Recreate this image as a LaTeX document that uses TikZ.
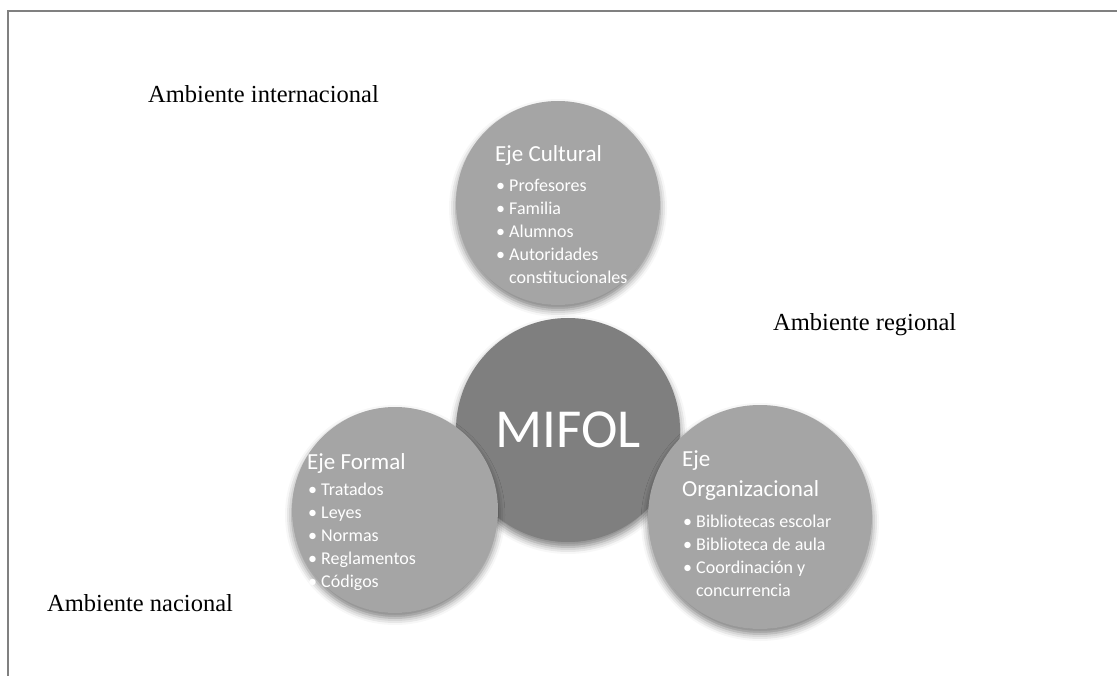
\documentclass[tikz,border=0pt]{standalone}
\usepackage{fontspec}
\setmainfont{Liberation Serif}
\newfontfamily\calfont{Carlito}
\usetikzlibrary{shadows.blur}
\definecolor{discgray}{HTML}{A5A5A5}
\definecolor{hubgray}{HTML}{7F7F7F}
\definecolor{framegray}{HTML}{808080}
\begin{document}
\begin{tikzpicture}[x=1pt, y=-1pt,
      disc/.style={circle, fill=discgray, inner sep=0pt,
                   blur shadow={shadow xshift=0pt, shadow yshift=-5pt,
                                shadow blur radius=7pt, shadow opacity=50}},
      hub/.style={disc, fill=hubgray, text=white,
                  font=\calfont\fontsize{55}{60}\selectfont},
      ttl/.style={text=white, inner sep=0pt, align=left,
                  font=\calfont\fontsize{23}{30}\selectfont},
      items/.style={text=white, inner sep=0pt, align=left, anchor=north west,
                    font=\calfont\fontsize{18}{23}\selectfont},
      amb/.style={anchor=base west, inner sep=0pt,
                  font=\fontsize{24.5}{28}\selectfont},
      frame/.style={draw=framegray, line width=2pt},
    ]
    \useasboundingbox (0,0) rectangle (1117,676);

    % Frame
    \draw[frame] (1117,11) -| (8,676);

    % Centre
    \node[hub, minimum size=224pt] (mifol) at (568,430) {MIFOL};

    % Three axes
    \node[disc, minimum size=204pt] (cult)   at (558,203) {};
    \node[disc, minimum size=206pt] (formal) at (395,510) {};
    \node[disc, minimum size=224pt] (organ)  at (760,517) {};

    % Axis texts
    \node[ttl, anchor=base west] (cultT) at (495,162) {Eje Cultural};
    \node[items] (cultL) at (496,179)
      {\textbullet\ Profesores\\\textbullet\ Familia\\\textbullet\ Alumnos\\
       \textbullet\ Autoridades\\\phantom{\textbullet\ }constitucionales};

    \node[ttl, anchor=base west] (formalT) at (307,469) {Eje Formal};
    \node[items] (formalL) at (308,483)
      {\textbullet\ Tratados\\\textbullet\ Leyes\\\textbullet\ Normas\\
       \textbullet\ Reglamentos\\\textbullet\ Códigos};

    \node[ttl, anchor=north west] (organT) at (682,450) {Eje\\Organizacional};
    \node[items] (organL) at (683,515)
      {\textbullet\ Bibliotecas escolar\\\textbullet\ Biblioteca de aula\\
       \textbullet\ Coordinación y\\\phantom{\textbullet\ }concurrencia};

    % Surroundings
    \node[amb] (intl) at (148,103) {Ambiente internacional};
    \node[amb] (regl) at (773,331) {Ambiente regional};
    \node[amb] (natl) at (47,611)  {Ambiente nacional};

    \end{tikzpicture}
\end{document}
